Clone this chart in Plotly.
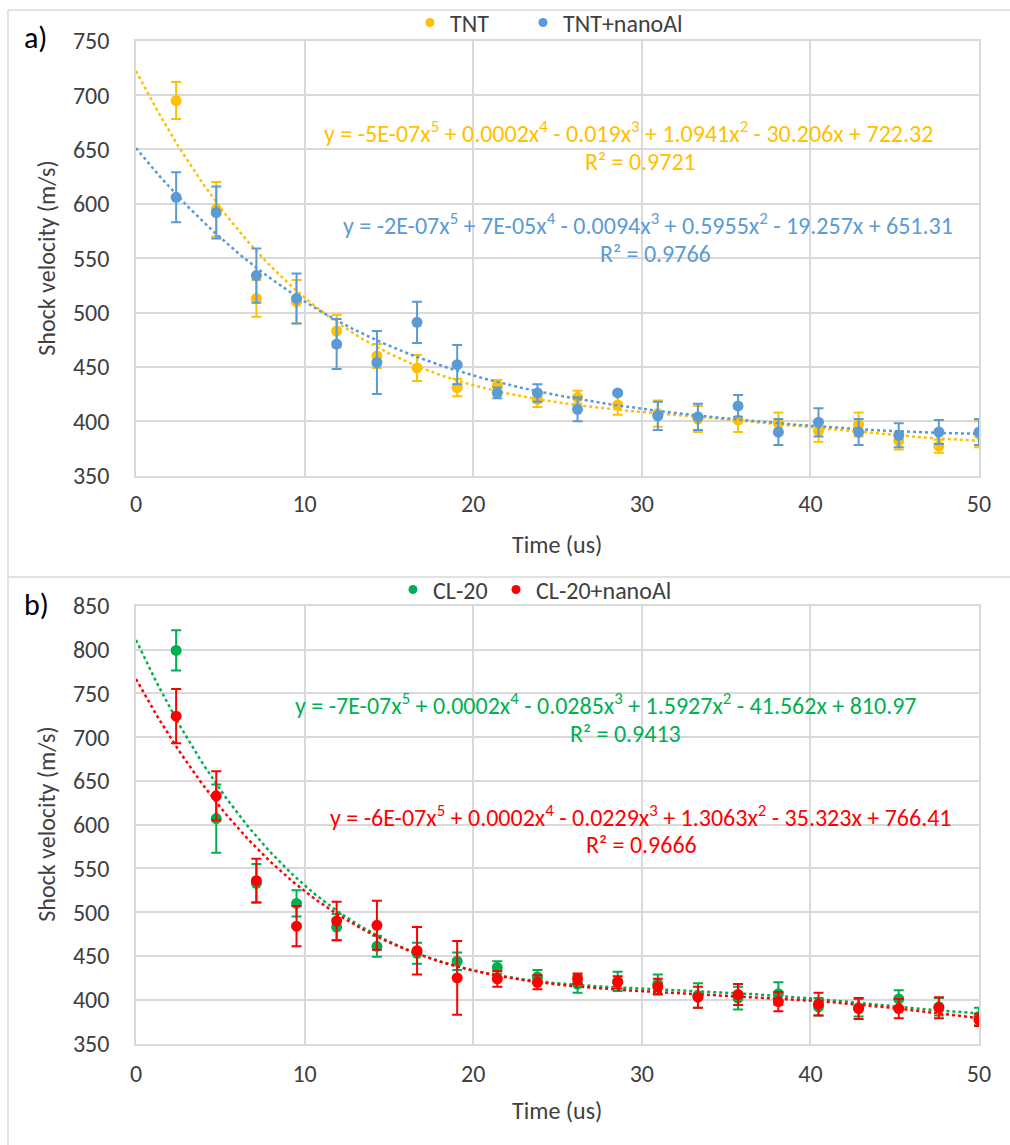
import numpy as np
import plotly.graph_objects as go

# Sampling times (us)
time_us = [2.38, 4.76, 7.14, 9.52, 11.90, 14.29, 16.67, 19.05, 21.43, 23.81, 26.19,
           28.57, 30.95, 33.33, 35.71, 38.10, 40.48, 42.86, 45.24, 47.62, 50.00]

# Panel a: TNT
tnt = [695, 595, 513, 510, 483, 460, 449, 431, 433, 420, 422,
       415, 407, 402, 401, 398, 391, 397, 382, 377, 388]
tnt_err = [17, 25, 17, 20, 15, 11, 12, 8, 5, 7, 6,
           9, 12, 12, 11, 10, 10, 11, 8, 6, 12]
tnt_al = [606, 592, 534, 513, 471, 454, 491, 452, 426, 426, 411,
          426, 405, 404, 414, 390, 399, 390, 387, 390, 390]
tnt_al_err = [23, 24, 25, 23, 23, 29, 19, 18, 5, 8, 11,
              1, 13, 12, 10, 12, 13, 12, 11, 11, 12]

# Panel b: CL-20
cl20 = [799, 607, 533, 510, 483, 461, 453, 444, 437, 426, 418,
        421, 418, 405, 402, 407, 392, 391, 401, 392, 381]
cl20_err = [23, 39, 22, 15, 15, 12, 12, 10, 7, 8, 10,
            11, 11, 14, 13, 13, 10, 10, 10, 10, 10]
cl20_al = [724, 633, 536, 484, 490, 485, 456, 425, 424, 420, 424,
           420, 415, 403, 406, 398, 395, 390, 390, 391, 377]
cl20_al_err = [31, 28, 25, 23, 22, 28, 27, 42, 9, 8, 6,
               7, 9, 12, 12, 11, 13, 12, 11, 12, 7]

# Low-order trendline coefficients as printed (constant, x, x^2)
tnt_low = [722.32, -30.206, 1.0941]
tnt_al_low = [651.31, -19.257, 0.5955]
cl20_low = [810.97, -41.562, 1.5927]
cl20_al_low = [766.41, -35.323, 1.3063]

YELLOW = "#FFC000"
BLUE = "#5B9BD5"
GREEN = "#00B050"
RED = "#FF0000"
GRID = "#D9D9D9"
TXT = "#404040"
FONT = "Calibri, Carlito, Lato, sans-serif"
FS = 24

W, H = 1010, 1145


def px_x(p):
    return p / W


def px_y(p):
    return 1 - p / H


def trend(y, low, t):
    """Order-5 polynomial: printed low-order terms, x^3..x^5 terms fitted."""
    x = np.asarray(time_us, float)
    y = np.asarray(y, float)
    base = low[0] + low[1] * x + low[2] * x ** 2
    A = np.column_stack([x ** 3, x ** 4, x ** 5])
    s = A.max(axis=0)
    c, *_ = np.linalg.lstsq(A / s, y - base, rcond=None)
    c = c / s
    return (low[0] + low[1] * t + low[2] * t ** 2
            + c[0] * t ** 3 + c[1] * t ** 4 + c[2] * t ** 5)


fig = go.Figure()

t_fit = np.linspace(0, 50, 300)


def add_series(name, y, err, low, color, xa, ya, legend):
    fig.add_trace(go.Scatter(
        x=t_fit, y=trend(y, low, t_fit), mode="lines",
        line=dict(color=color, width=2.5, dash="dot"),
        xaxis=xa, yaxis=ya, showlegend=False, hoverinfo="skip"))
    fig.add_trace(go.Scatter(
        x=time_us, y=y, mode="markers", name=name,
        marker=dict(color=color, size=11),
        error_y=dict(type="data", array=err, visible=True,
                     color=color, thickness=2, width=5),
        xaxis=xa, yaxis=ya, showlegend=False))
    # compact legend entry
    fig.add_trace(go.Scatter(
        x=[None], y=[None], mode="markers", name=name,
        marker=dict(color=color, size=9),
        xaxis=xa, yaxis=ya, legend=legend, showlegend=True))


add_series("TNT", tnt, tnt_err, tnt_low, YELLOW, "x", "y", "legend")
add_series("TNT+nanoAl", tnt_al, tnt_al_err, tnt_al_low, BLUE, "x", "y", "legend2")
add_series("CL-20", cl20, cl20_err, cl20_low, GREEN, "x2", "y2", "legend3")
add_series("CL-20+nanoAl", cl20_al, cl20_al_err, cl20_al_low, RED, "x2", "y2", "legend4")

x_dom = [px_x(136), px_x(979)]

axis_common = dict(
    showgrid=True, gridcolor=GRID, gridwidth=1.5,
    showline=True, linecolor=GRID, linewidth=1.5, mirror=True,
    zeroline=False, ticks="", automargin=False,
    tickfont=dict(family=FONT, size=FS, color=TXT),
)

legend_common = dict(orientation="h", xanchor="left", yanchor="middle",
                     font=dict(family=FONT, size=FS, color=TXT), bgcolor="rgba(0,0,0,0)",
                     itemwidth=30, tracegroupgap=0)

fig.update_layout(
    width=W, height=H,
    margin=dict(l=0, r=0, t=0, b=0),
    paper_bgcolor="white", plot_bgcolor="white",
    font=dict(family=FONT, color=TXT),
    xaxis=dict(axis_common, domain=x_dom, anchor="y", range=[0, 50], dtick=10,
               ticklabelstandoff=6),
    yaxis=dict(axis_common, domain=[px_y(472), px_y(35)], anchor="x", range=[350, 750], dtick=50,
               ticklabelstandoff=20),
    xaxis2=dict(axis_common, domain=x_dom, anchor="y2", range=[0, 50], dtick=10,
                ticklabelstandoff=8),
    yaxis2=dict(axis_common, domain=[px_y(1043), px_y(603)], anchor="x2", range=[350, 850], dtick=50,
                ticklabelstandoff=20),
    legend=dict(legend_common, x=px_x(410), y=px_y(17)),
    legend2=dict(legend_common, x=px_x(523), y=px_y(17)),
    legend3=dict(legend_common, x=px_x(393), y=px_y(587)),
    legend4=dict(legend_common, x=px_x(496), y=px_y(587)),
)

# Outer frame and separator between the two panels
for x0, y0, x1, y1 in [(8, 4, W, 4), (8, 4, 8, H), (8, 574, W, 574)]:
    fig.add_shape(type="line", xref="paper", yref="paper",
                  x0=px_x(x0), y0=px_y(y0), x1=px_x(x1), y1=px_y(y1),
                  line=dict(color=GRID, width=1.5))

notes = [
    ("a)", 22, 32, "black", 30, "left", 0),
    ("b)", 22, 602, "black", 30, "left", 0),
    ("Time (us)", 557, 541, TXT, FS, "center", 0),
    ("Time (us)", 557, 1110, TXT, FS, "center", 0),
    ("Shock velocity (m/s)", 47, 254, TXT, FS, "center", -90),
    ("Shock velocity (m/s)", 47, 823, TXT, FS, "center", -90),
    ("y = -5E-07x<sup>5</sup> + 0.0002x<sup>4</sup> - 0.019x<sup>3</sup> + 1.0941x<sup>2</sup> - 30.206x + 722.32",
     628, 127, YELLOW, FS, "center", 0),
    ("R² = 0.9721", 640, 156, YELLOW, FS, "center", 0),
    ("y = -2E-07x<sup>5</sup> + 7E-05x<sup>4</sup> - 0.0094x<sup>3</sup> + 0.5955x<sup>2</sup> - 19.257x + 651.31",
     648, 219, BLUE, FS, "center", 0),
    ("R² = 0.9766", 655, 249, BLUE, FS, "center", 0),
    ("y = -7E-07x<sup>5</sup> + 0.0002x<sup>4</sup> - 0.0285x<sup>3</sup> + 1.5927x<sup>2</sup> - 41.562x + 810.97",
     606, 702, GREEN, FS, "center", 0),
    ("R² = 0.9413", 625, 731, GREEN, FS, "center", 0),
    ("y = -6E-07x<sup>5</sup> + 0.0002x<sup>4</sup> - 0.0229x<sup>3</sup> + 1.3063x<sup>2</sup> - 35.323x + 766.41",
     641, 814, RED, FS, "center", 0),
    ("R² = 0.9666", 641, 843, RED, FS, "center", 0),
]
for text, x, y, color, size, anchor, angle in notes:
    fig.add_annotation(text=text, xref="paper", yref="paper",
                       x=px_x(x), y=px_y(y), xanchor=anchor, yanchor="middle",
                       textangle=angle, showarrow=False,
                       font=dict(family=FONT, size=size, color=color))

fig.write_html("out.html")
